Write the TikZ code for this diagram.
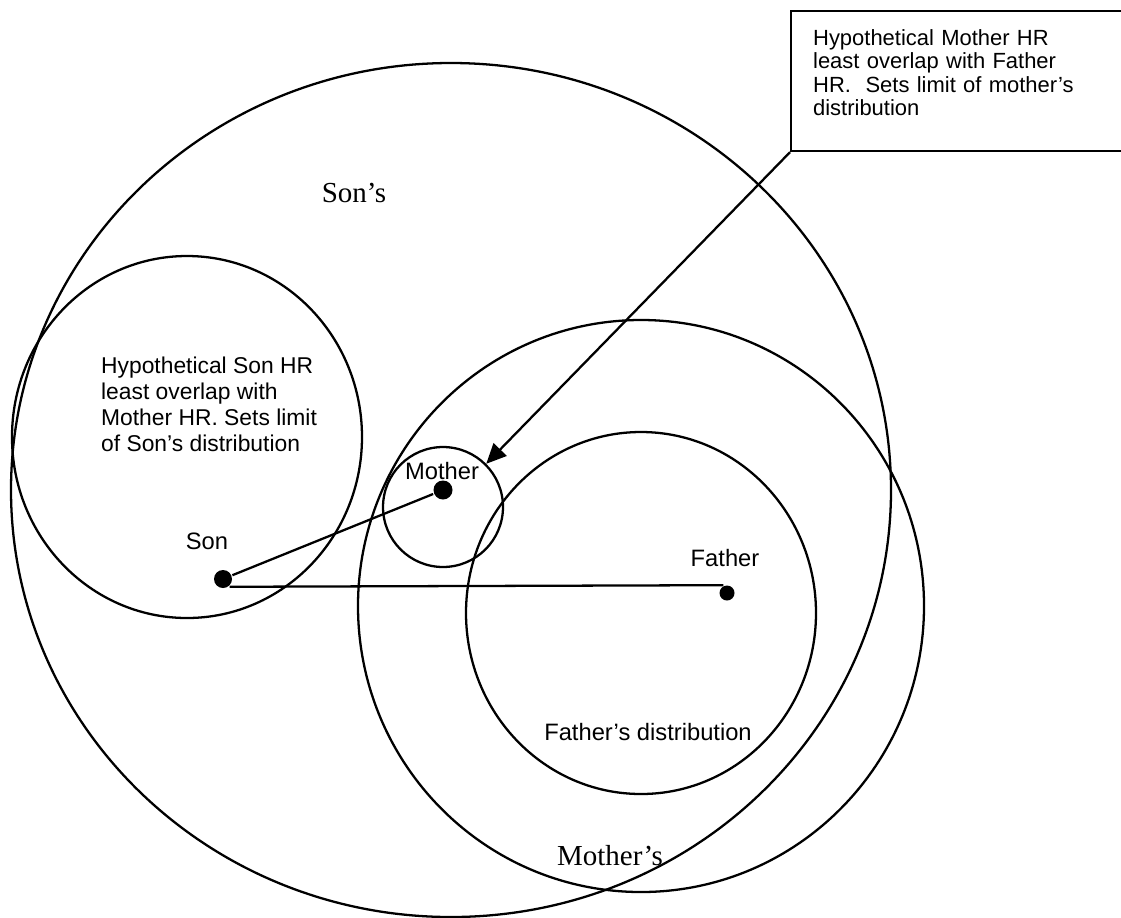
\documentclass[tikz,border=0pt]{standalone}
\usepackage{fontspec}
\setmainfont{Liberation Sans}
\newfontfamily\timesface{Liberation Serif}
\usetikzlibrary{arrows.meta}
\tikzset{
  dot/.style={circle,fill,inner sep=0pt},
  who/.style={font=\fontsize{13.5}{16}\selectfont},
  distname/.style={font=\timesface\fontsize{16.5}{19}\selectfont},
  hrnote/.style={font=\fontsize{13}{14.7}\selectfont,align=left,anchor=north west,inner sep=0pt},
  notebox/.style={draw,anchor=north west,align=left,text width=6.4cm,
    font=\fontsize{12.5}{13.4}\selectfont,inner xsep=0.44cm,inner ysep=0.36cm,text depth=1.76cm},
}
\newcommand{\memberdot}[3]{%
  \node[dot,minimum size=#3] (#1) at (#2) {};
}

\begin{document}
\begin{tikzpicture}[x=0.02cm,y=-0.02cm,line width=1.3pt]
  \useasboundingbox (0,0) rectangle (1121,917);
  \clip (0,0) rectangle (1121,917);

  \draw (451,490) ellipse [x radius=440,y radius=427];
  \draw (187,437) ellipse [x radius=175,y radius=181];
  \draw (641,606) ellipse [x radius=283,y radius=286];
  \draw (641,613) ellipse [x radius=175,y radius=181];
  \node[draw,circle,minimum size=2.4cm,inner sep=0pt] (mhr) at (443,507) {};

  \memberdot{son}{223,579}{0.36cm}
  \memberdot{mother}{443,490}{0.38cm}
  \memberdot{father}{727,593}{0.3cm}

  \node[who] (sonlbl) at (207,541) {Son};
  \node[who] (motherlbl) at (442,471) {Mother};
  \node[who] (fatherlbl) at (725,558) {Father};
  \node[who] (fatherdist) at (648,732) {Father’s distribution};
  \node[distname] (sondist) at (354,193) {Son’s};
  \node[distname] (motherdist) at (610,856) {Mother’s};

  \node[hrnote] (sonhr) at (100,356) {Hypothetical Son HR\\least overlap with\\Mother HR. Sets limit\\of Son’s distribution};
  \node[notebox] (mhrbox) at (790,10) {Hypothetical Mother HR\\least overlap with Father\\HR.\ \ Sets limit of mother’s\\distribution};

  \draw (son) -- (mother);
  \draw (son.-50) -- (father.115);
  \draw[-{Triangle[length=0.4cm,width=0.36cm]}] (mhrbox.south west) -- (mhr.45);
\end{tikzpicture}
\end{document}
